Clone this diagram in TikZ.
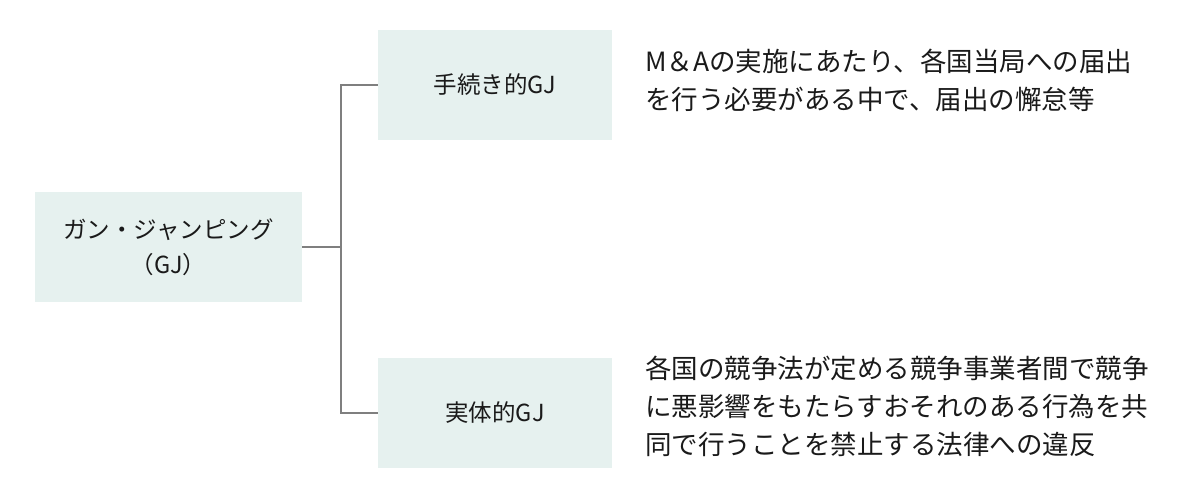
\documentclass[tikz,border=0pt]{standalone}
\usepackage{fontspec}
\setmainfont{Noto Sans CJK JP}
\definecolor{boxfill}{HTML}{E6F1EF}
\definecolor{linegray}{HTML}{7F7F7F}
\definecolor{txt}{HTML}{1A1A1A}
\begin{document}
\begin{tikzpicture}[x=1pt,y=-1pt,
  gbox/.style={fill=boxfill,draw=none,inner sep=0pt,align=center,text=txt,font=\fontsize{23.5}{35}\selectfont},
  conn/.style={draw=linegray,line width=2pt},
  desc/.style={anchor=north west,inner sep=0pt,align=left,text=txt,font=\fontsize{26.5}{38}\selectfont}]
\useasboundingbox (0,0) rectangle (1200,492);
\node[gbox,minimum width=267pt,minimum height=110pt] (root) at (168.5,247) {ガン・ジャンピング\\（GJ）};
\node[gbox,minimum width=234pt,minimum height=110pt] (proc) at (495,85) {手続き的GJ};
\node[gbox,minimum width=234pt,minimum height=110pt] (subs) at (495,413) {実体的GJ};
\coordinate (j) at (341,247);
\draw[conn] (root.east) -- (j);
\draw[conn] (proc.west) -| (j) |- (subs.west);
\node[desc] (d1) at (645,49) {M＆Aの実施にあたり、各国当局への届出\\を行う必要がある中で、届出の懈怠等};
\node[desc] (d2) at (645,356) {各国の競争法が定める競争事業者間で競争\\に悪影響をもたらすおそれのある行為を共\\同で行うことを禁止する法律への違反};
\end{tikzpicture}
\end{document}
